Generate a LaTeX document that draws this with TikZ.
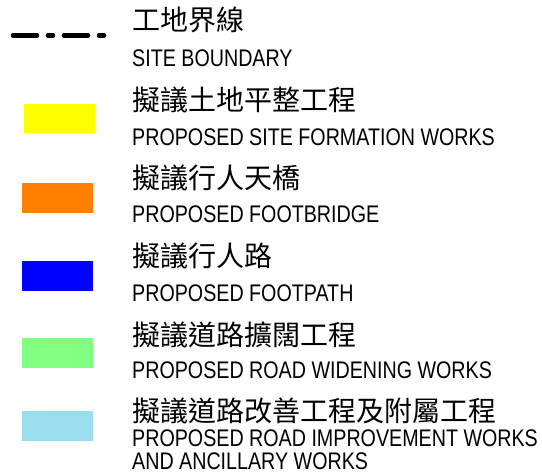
\documentclass[tikz,border=0pt]{standalone}
\usepackage{fontspec}
\newfontfamily\zhfont{Noto Sans CJK TC}
\newfontfamily\enfont[FakeStretch=0.82]{Liberation Sans}
\definecolor{swyellow}{RGB}{255,255,0}
\definecolor{sworange}{RGB}{255,128,0}
\definecolor{swblue}{RGB}{0,0,255}
\definecolor{swgreen}{RGB}{128,255,128}
\definecolor{swcyan}{RGB}{153,221,238}
\begin{document}
\begin{tikzpicture}[x=1pt,y=-1pt,
  swatch/.style={minimum width=71pt,minimum height=30pt,inner sep=0pt,draw=none},
  zh/.style={anchor=base west,inner sep=0pt,font=\zhfont\fontsize{28}{30}\selectfont},
  en/.style={anchor=base west,inner sep=0pt,align=left,font=\enfont\fontsize{24}{23}\selectfont},
  boundary/.style={line width=4.5pt,line cap=round,dash pattern=on 24pt off 11pt on 5pt off 11pt}]
\useasboundingbox (0,0) rectangle (542,474);
% site boundary
\coordinate (bl) at (13,35.5);
\coordinate (br) at (104,35.5);
\draw[boundary] (bl) -- (br);
\node[zh] (zh1) at (132,30) {工地界線};
\node[en] (en1) at (132,66) {SITE BOUNDARY};
% swatches
\node[swatch,fill=swyellow,minimum height=29pt] (sw2) at (59.5,118.5) {};
\node[zh] (zh2) at (132,110) {擬議土地平整工程};
\node[en] (en2) at (132,145) {PROPOSED SITE FORMATION WORKS};
\node[swatch,fill=sworange] (sw3) at (57.5,198) {};
\node[zh] (zh3) at (132,188) {擬議行人天橋};
\node[en] (en3) at (132,222) {PROPOSED FOOTBRIDGE};
\node[swatch,fill=swblue] (sw4) at (57.5,276) {};
\node[zh] (zh4) at (132,266) {擬議行人路};
\node[en] (en4) at (132,301) {PROPOSED FOOTPATH};
\node[swatch,fill=swgreen] (sw5) at (57.5,353) {};
\node[zh] (zh5) at (132,345) {擬議道路擴闊工程};
\node[en] (en5) at (132,378) {PROPOSED ROAD WIDENING WORKS};
\node[swatch,fill=swcyan] (sw6) at (57.5,426) {};
\node[zh] (zh6) at (132,421) {擬議道路改善工程及附屬工程};
\node[en] (en6) at (132,469) {PROPOSED ROAD IMPROVEMENT WORKS\\AND ANCILLARY WORKS};
\end{tikzpicture}
\end{document}
